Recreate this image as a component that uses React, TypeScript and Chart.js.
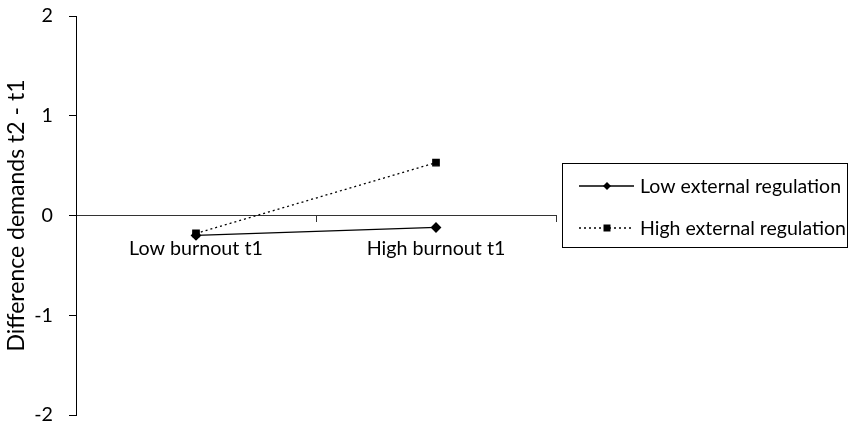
import React, { useEffect, useRef } from "react";
import { Chart, registerables } from "chart.js";

Chart.register(...registerables);

const categories = ["Low burnout t1", "High burnout t1"];
const lowExternal = [-0.2, -0.12];
const highExternal = [-0.18, 0.53];
const seriesNames = ["Low external regulation", "High external regulation"];
const yTicks = [-2, -1, 0, 1, 2];
const yTitle = "Difference demands t2 - t1";

const FONT = "Lato, 'DejaVu Sans', sans-serif";

const legendPlugin = {
  id: "boxLegend",
  afterDraw(chart: any) {
    const ctx = chart.ctx;
    const x0 = 562.5, y0 = 163.5, w = 285, h = 84;
    ctx.save();
    ctx.strokeStyle = "#000";
    ctx.lineWidth = 1;
    ctx.strokeRect(x0, y0, w, h);
    const rows = [186, 228];
    chart.data.datasets.forEach((ds: any, i: number) => {
      const y = rows[i];
      ctx.beginPath();
      ctx.setLineDash(ds.borderDash || []);
      ctx.lineWidth = ds.borderWidth;
      ctx.strokeStyle = "#000";
      ctx.moveTo(579, y);
      ctx.lineTo(634, y);
      ctx.stroke();
      ctx.setLineDash([]);
      const mx = 607;
      ctx.fillStyle = "#000";
      ctx.beginPath();
      if (ds.pointStyle === "rectRot") {
        const r = 4;
        ctx.moveTo(mx, y - r);
        ctx.lineTo(mx + r, y);
        ctx.lineTo(mx, y + r);
        ctx.lineTo(mx - r, y);
        ctx.closePath();
      } else {
        ctx.rect(mx - 3.5, y - 3.5, 7, 7);
      }
      ctx.fill();
      ctx.font = `19.5px ${FONT}`;
      ctx.textBaseline = "middle";
      ctx.textAlign = "left";
      ctx.fillText(ds.label, 640, y + 1);
    });
    ctx.restore();
  },
};

export default function App() {
  const ref = useRef<HTMLCanvasElement>(null);
  useEffect(() => {
    if (!ref.current) return;
    const chart = new Chart(ref.current, {
      type: "line",
      data: {
        labels: categories,
        datasets: [
          {
            label: seriesNames[0],
            data: lowExternal,
            borderColor: "#000",
            backgroundColor: "#000",
            borderWidth: 1.3,
            pointStyle: "rectRot",
            pointRadius: 4.5,
            pointHoverRadius: 4.5,
            tension: 0,
          },
          {
            label: seriesNames[1],
            data: highExternal,
            borderColor: "#000",
            backgroundColor: "#000",
            borderWidth: 1.3,
            borderDash: [2, 3],
            pointStyle: "rect",
            pointRadius: 4.5,
            pointHoverRadius: 4.5,
            tension: 0,
          },
        ],
      },
      options: {
        responsive: false,
        animation: false,
        layout: { padding: { left: 0, right: 293, top: 16, bottom: 10 } },
        plugins: { legend: { display: false }, tooltip: { enabled: false } },
        scales: {
          x: {
            type: "category",
            position: { y: 0 } as any,
            offset: true,
            afterFit: (s: any) => {
              s.paddingLeft = 0;
              s.paddingRight = 0;
              s.paddingTop = 0;
              s.paddingBottom = 0;
            },
            grid: {
              offset: true,
              drawOnChartArea: false,
              drawTicks: true,
              tickLength: 6,
              color: "#333",
            },
            border: { display: true, color: "#333", width: 1 },
            ticks: {
              color: "#000",
              font: { family: FONT, size: 19.7 },
              padding: 15,
            },
          },
          y: {
            min: -2,
            max: 2,
            afterFit: (s: any) => {
              s.width = 76;
              s.paddingTop = 0;
              s.paddingBottom = 0;
            },
            afterBuildTicks: (s: any) => {
              s.ticks = yTicks.map((v) => ({ value: v }));
            },
            grid: {
              drawOnChartArea: false,
              drawTicks: true,
              tickLength: 7,
              color: "#000",
            },
            border: { display: true, color: "#000", width: 1 },
            ticks: {
              color: "#000",
              font: { family: FONT, size: 19.7 },
              padding: 16,
            },
            title: {
              display: true,
              text: yTitle,
              color: "#000",
              font: { family: FONT, size: 23 },
              padding: { top: 3, bottom: 0 },
            },
          },
        },
      },
      plugins: [legendPlugin],
    });
    return () => chart.destroy();
  }, []);
  return (
    <div style={{ position: "fixed", left: 0, top: 0, width: 849, height: 425, background: "#fff" }}>
      <canvas ref={ref} width={849} height={425} style={{ width: 849, height: 425, display: "block" }} />
    </div>
  );
}
